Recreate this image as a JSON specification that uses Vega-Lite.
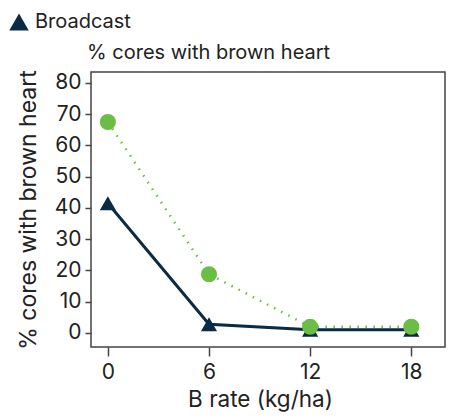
{
  "$schema": "https://vega.github.io/schema/vega-lite/v6.json",
  "autosize": {"type": "none"},
  "width": 354,
  "height": 275,
  "padding": {"left": 91, "top": 72, "right": 4, "bottom": 72},
  "background": "white",
  "config": {
    "font": "Inter",
    "view": {"stroke": "#444444", "strokeWidth": 1.5},
    "axis": {"labelFont": "Inter", "titleFont": "Inter", "labelColor": "#222222", "titleColor": "#222222", "titleFontWeight": "normal", "tickColor": "#444444", "tickWidth": 1.5, "grid": false, "domain": false},
    "legend": {"labelFont": "Inter"}
  },
  "title": {"text": "% cores with brown heart", "anchor": "start", "frame": "group", "fontSize": 20, "fontWeight": "normal", "color": "#222222", "offset": 9, "dx": -4, "dy": 60},
  "data": {"values": [
    {"rate": 0, "pct": 41.5, "series": "Broadcast"},
    {"rate": 6, "pct": 2.8, "series": "Broadcast"},
    {"rate": 12, "pct": 1, "series": "Broadcast"},
    {"rate": 18, "pct": 1, "series": "Broadcast"},
    {"rate": 0, "pct": 67.5, "series": "Banded"},
    {"rate": 6, "pct": 18.8, "series": "Banded"},
    {"rate": 12, "pct": 2, "series": "Banded"},
    {"rate": 18, "pct": 2, "series": "Banded"}
  ]},
  "encoding": {
    "x": {"field": "rate", "type": "quantitative", "title": "B rate (kg/ha)",
      "scale": {"domain": [-1, 20], "nice": false, "zero": false},
      "axis": {"values": [0, 6, 12, 18], "tickSize": 9, "labelFontSize": 21, "titleFontSize": 22.5, "labelPadding": 5, "titlePadding": 6, "titleX": 169}},
    "y": {"field": "pct", "type": "quantitative", "title": "% cores with brown heart",
      "scale": {"domain": [-4.5, 83.5], "nice": false, "zero": false},
      "axis": {"values": [0, 10, 20, 30, 40, 50, 60, 70, 80], "tickSize": 6, "labelFontSize": 21, "titleFontSize": 23, "labelPadding": 4, "titlePadding": 14}},
    "color": {"field": "series", "type": "nominal",
      "scale": {"domain": ["Broadcast", "Banded"], "range": ["#0b2a43", "#6abd45"]},
      "legend": {"values": ["Broadcast"], "title": null, "orient": "none", "legendX": -82, "legendY": -60, "labelFontSize": 20, "labelColor": "#222222", "symbolSize": 380, "symbolStrokeWidth": 0, "labelOffset": 6}}
  },
  "layer": [
    {"mark": {"type": "line", "strokeWidth": 3},
     "transform": [{"filter": "datum.series === 'Broadcast'"}]},
    {"mark": {"type": "line", "strokeWidth": 2.5, "strokeDash": [1.5, 6.5]},
     "transform": [{"filter": "datum.series === 'Banded'"}]},
    {"mark": {"type": "point", "filled": true, "opacity": 1, "size": 260},
     "encoding": {
       "shape": {"field": "series", "type": "nominal",
         "scale": {"domain": ["Broadcast", "Banded"], "range": ["triangle-up", "circle"]},
         "legend": {"values": ["Broadcast"], "title": null, "orient": "none", "legendX": -82, "legendY": -60, "labelFontSize": 20, "labelColor": "#222222", "symbolSize": 380, "symbolStrokeWidth": 0, "labelOffset": 6}
       }
     }}
  ]
}
